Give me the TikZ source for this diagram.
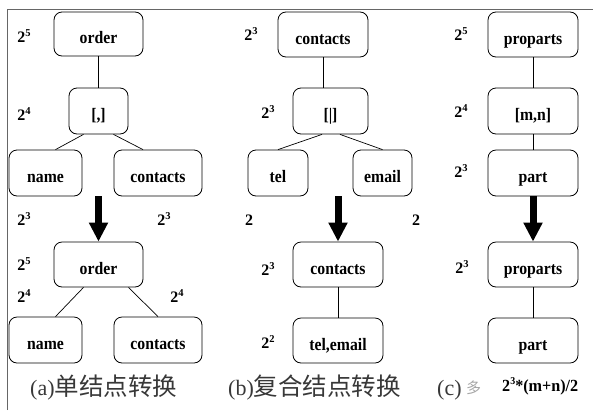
\documentclass[tikz,border=0pt]{standalone}
\usepackage{fontspec}
\setmainfont{Liberation Serif}
\newfontfamily\cjk{Noto Sans CJK SC}
\usetikzlibrary{arrows.meta,calc}
\newcommand{\myexp}[2]{#1\raisebox{6pt}{\fontsize{10.5}{10.5}\selectfont #2}}
\newcommand{\bx}[1]{\scalebox{0.9}[1]{#1}}
\begin{document}
\begin{tikzpicture}[x=1pt,y=-1pt,
  box/.style={draw, rounded corners=8pt, line width=0.8pt, inner sep=0pt,
    font=\fontsize{17.5}{18}\selectfont\bfseries, text height=21pt, text depth=2pt},
  wb/.style={box, minimum width=90pt, minimum height=45pt},
  lbl/.style={font=\fontsize{16}{16}\selectfont\bfseries, anchor=base, inner sep=0pt},
  captxt/.style={font=\fontsize{22}{24}\selectfont, text=black!78, anchor=base west, inner sep=0pt},
  conn/.style={line width=0.7pt},
  bigarrow/.style={line width=7pt, -{Triangle[width=18pt,length=19pt]}}
]
\useasboundingbox (0,0) rectangle (593,410);
% frame
\draw[black!60, line width=1pt] (7,410) -- (7,9) -- (593,9);

% ---------- panel a ----------
\node[box, minimum width=89pt, minimum height=44pt] (aorder) at (98.5,34) {\bx{order}};
\node[box, minimum width=59pt, minimum height=46pt] (abr) at (98.5,111) {\bx{[,]}};
\node[box, minimum width=73pt, minimum height=46pt] (aname) at (45.5,173) {\bx{name}};
\node[box, minimum width=88pt, minimum height=46pt] (acon) at (158,173) {\bx{contacts}};
\node[box, minimum width=89pt, minimum height=45pt] (aorder2) at (98.5,264.5) {\bx{order}};
\node[box, minimum width=73pt, minimum height=46pt] (aname2) at (45.5,340) {\bx{name}};
\node[box, minimum width=88pt, minimum height=46pt] (acon2) at (158,340) {\bx{contacts}};
\draw[conn] (aorder.south) -- (abr.north);
\draw[conn] ([xshift=-15pt]abr.south) -- ([xshift=10pt]aname.north);
\draw[conn] ([xshift=15pt]abr.south) -- ([xshift=-15pt]acon.north);
\draw[conn] ([xshift=-15pt]aorder2.south) -- ([xshift=10pt]aname2.north);
\draw[conn] ([xshift=30pt]aorder2.south) -- (acon2.north);
\coordinate (aar) at (98.5,196);
\draw[bigarrow] (aar) -- (aorder2.north);
\node[lbl] (la1) at (24,42) {\myexp{2}{5}};
\node[lbl] (la2) at (24,120) {\myexp{2}{4}};
\node[lbl] (la3) at (24,225) {\myexp{2}{3}};
\node[lbl] (la4) at (164,225) {\myexp{2}{3}};
\node[lbl] (la5) at (24,270) {\myexp{2}{5}};
\node[lbl] (la6) at (24,302) {\myexp{2}{4}};
\node[lbl] (la7) at (177,302) {\myexp{2}{4}};

% ---------- panel b ----------
\node[wb] (bcon) at (323,34.5) {\bx{contacts}};
\node[box, minimum width=75pt, minimum height=46pt] (bbr) at (330.5,111) {\bx{[|]}};
\node[box, minimum width=60pt, minimum height=46pt] (btel) at (278,173) {\bx{tel}};
\node[box, minimum width=59pt, minimum height=46pt] (bem) at (382.5,173) {\bx{email}};
\node[wb] (bcon2) at (338,264.5) {\bx{contacts}};
\node[wb] (bte) at (338,340.5) {\bx{tel,email}};
\draw[conn] (bcon.south) -- (bcon.south |- bbr.north);
\draw[conn] ([xshift=-8.5pt]bbr.south) -- (btel.north);
\draw[conn] ([xshift=9.5pt]bbr.south) -- (bem.north);
\draw[conn] (bcon2.south) -- (bte.north);
\coordinate (bar) at (338,196);
\draw[bigarrow] (bar) -- (bcon2.north);
\node[lbl] (lb1) at (251,40) {\myexp{2}{3}};
\node[lbl] (lb2) at (268,118) {\myexp{2}{3}};
\node[lbl] (lb3) at (249,225) {2};
\node[lbl] (lb4) at (416,225) {2};
\node[lbl] (lb5) at (268,275) {\myexp{2}{3}};
\node[lbl] (lb6) at (268,348) {\myexp{2}{2}};

% ---------- panel c ----------
\node[wb] (cpro) at (533,34.5) {\bx{proparts}};
\node[box, minimum width=90pt, minimum height=46pt] (cmn) at (533,111) {\bx{[m,n]}};
\node[box, minimum width=90pt, minimum height=46pt] (cpart) at (533,173) {\bx{part}};
\node[wb] (cpro2) at (533,264.5) {\bx{proparts}};
\node[wb] (cpart2) at (533,340.5) {\bx{part}};
\draw[conn] (cpro.south) -- (cmn.north);
\draw[conn] (cmn.south) -- (cpart.north);
\draw[conn] (cpro2.south) -- (cpart2.north);
\coordinate (car) at (533,196);
\draw[bigarrow] (car) -- (cpro2.north);
\node[lbl] (lc1) at (461,40) {\myexp{2}{5}};
\node[lbl] (lc2) at (461,117) {\myexp{2}{4}};
\node[lbl] (lc3) at (461,177) {\myexp{2}{3}};
\node[lbl] (lc4) at (462,273) {\myexp{2}{3}};

% ---------- captions ----------
\node[captxt] (capa) at (30,395) {(a){\cjk\fontsize{24.5}{25}\selectfont 单结点转换}};
\node[captxt] (capb) at (228,395) {(b){\cjk\fontsize{24.5}{25}\selectfont 复合结点转换}};
\node[captxt] (capc) at (437,395) {(c)};
\node[captxt, text=black!35] (capd) at (466,393) {\cjk\fontsize{15}{16}\selectfont 多};
\node[anchor=base west, inner sep=0pt, font=\fontsize{17}{17}\selectfont\bfseries] (cape) at (502,391) {\scalebox{0.95}[1]{2\raisebox{6.5pt}{\fontsize{10.5}{10.5}\selectfont 3}*(m+n)/2}};
\end{tikzpicture}
\end{document}
